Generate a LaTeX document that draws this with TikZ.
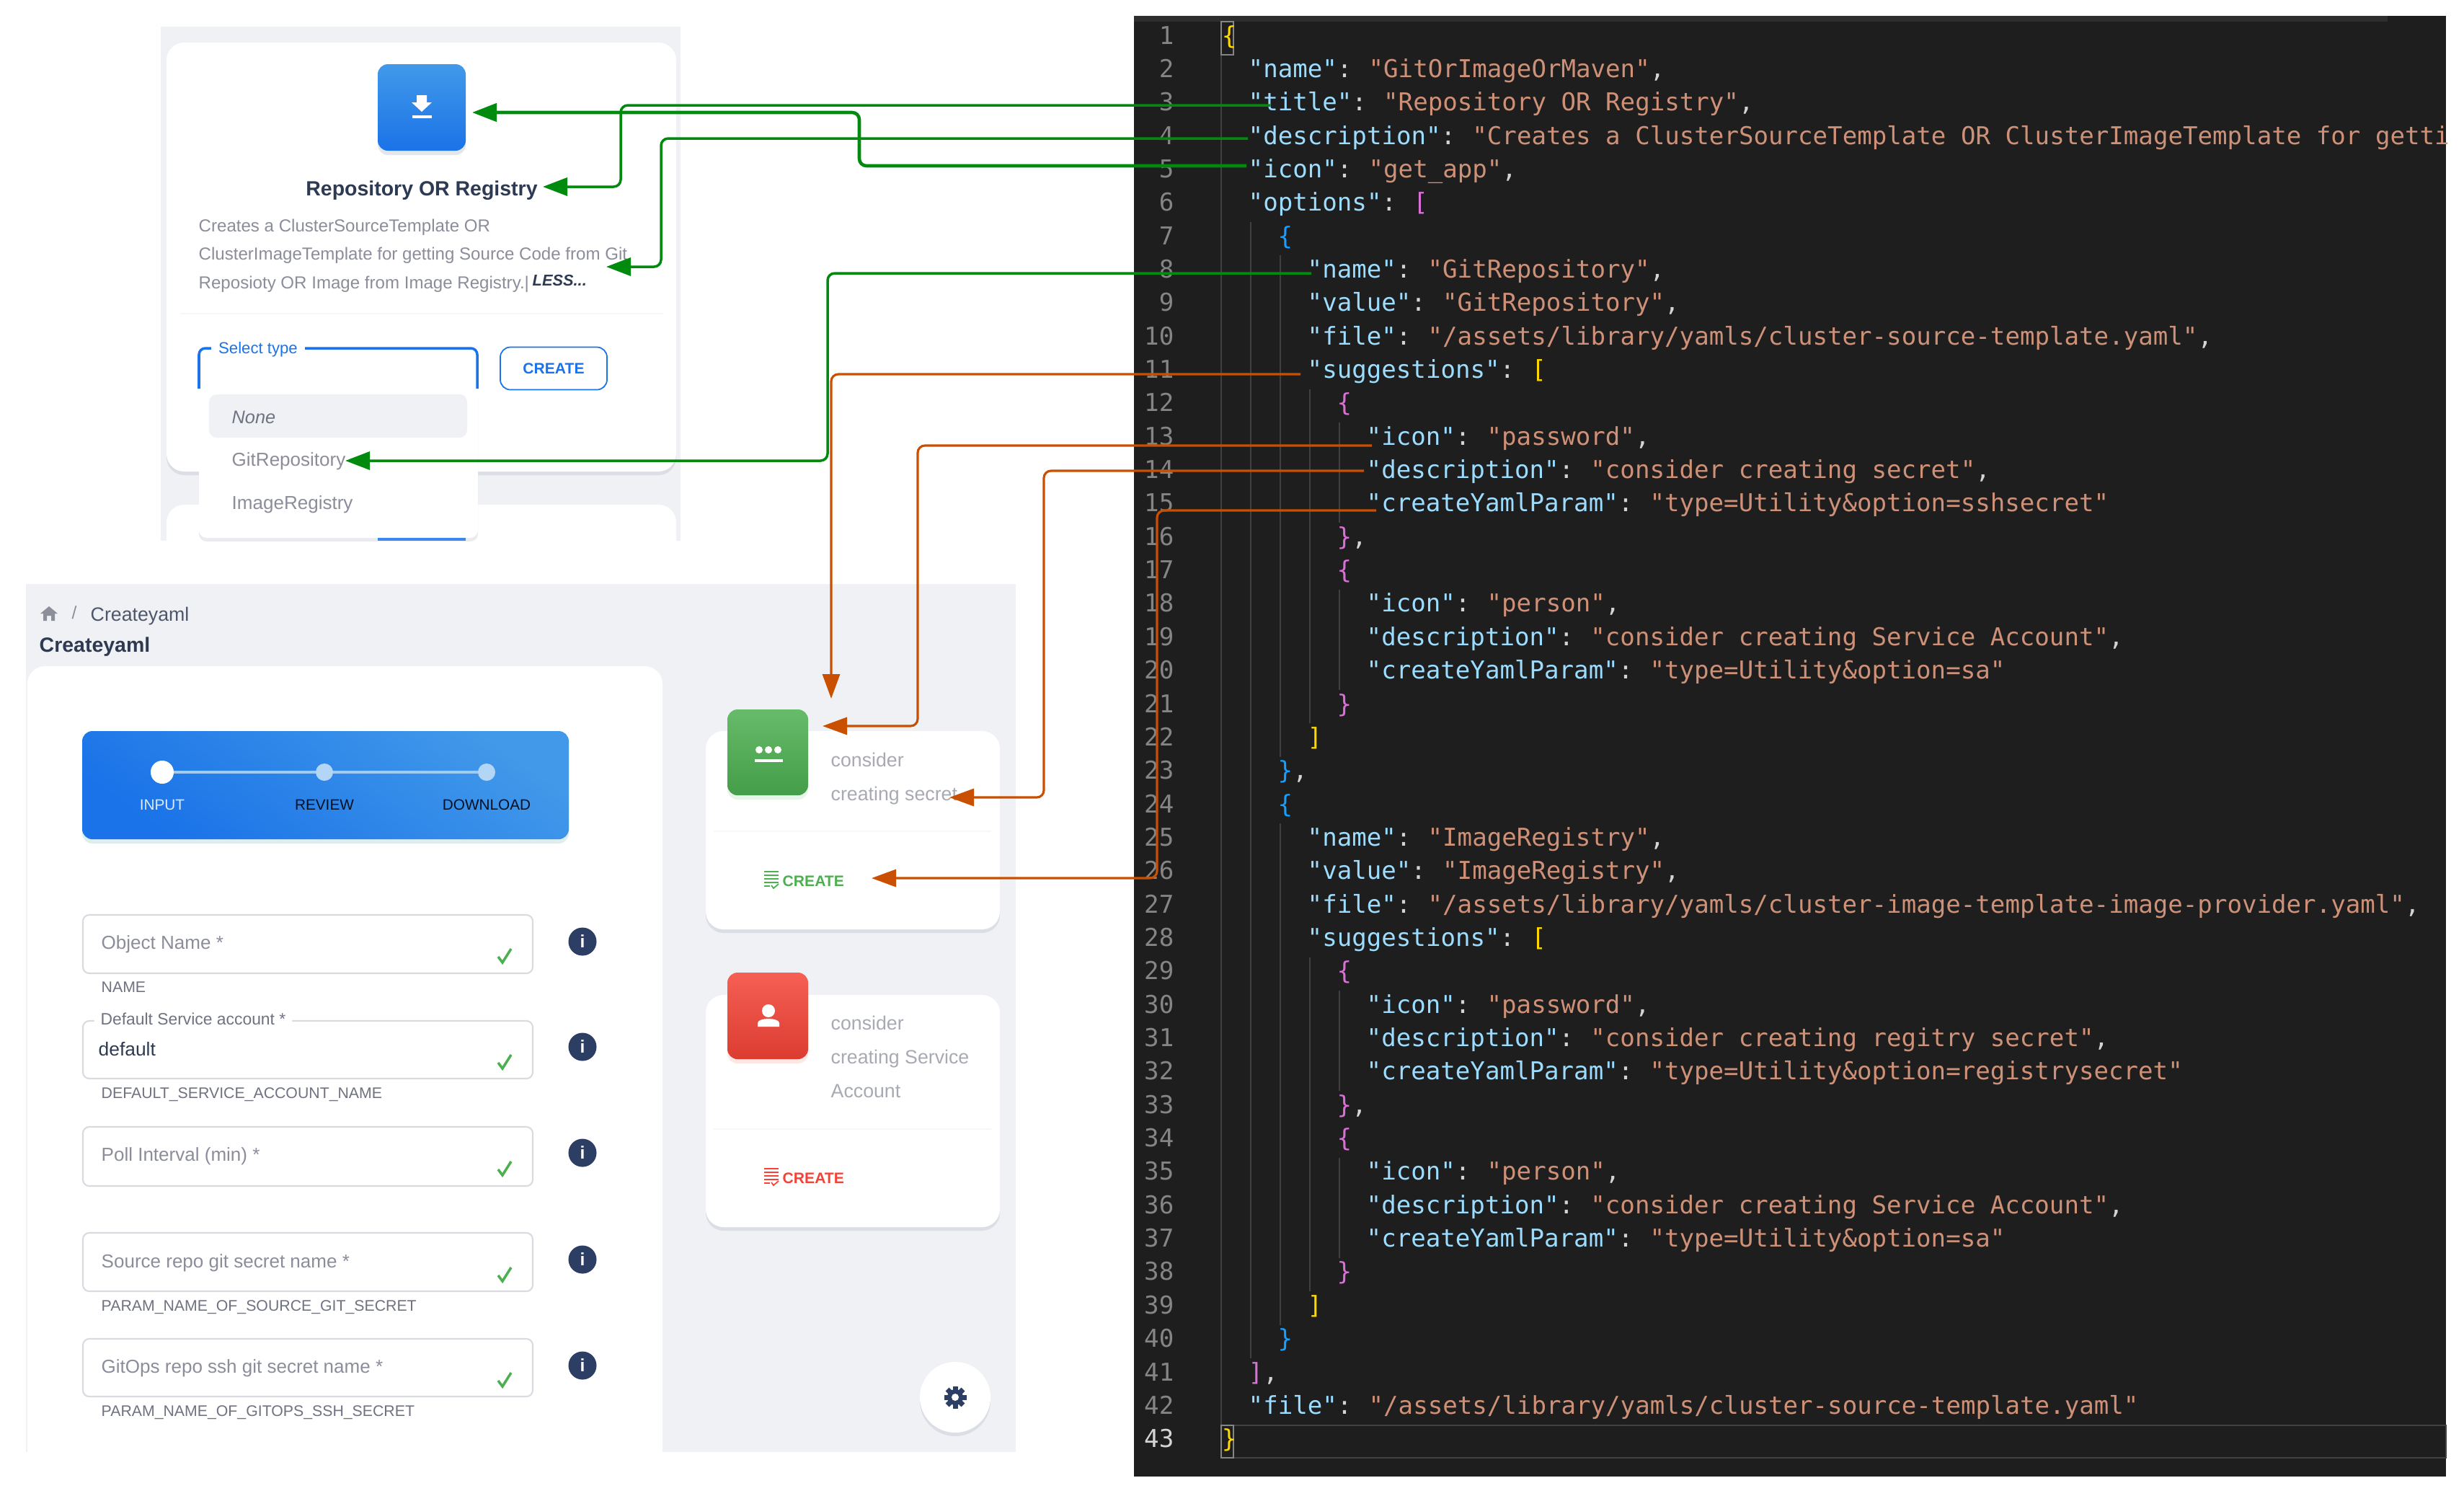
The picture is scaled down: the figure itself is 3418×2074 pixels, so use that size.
\documentclass[tikz,border=0pt]{standalone}
\usepackage{fontspec}
\setmainfont{Liberation Sans}
\newfontfamily\codefont{DejaVu Sans Mono}
\usetikzlibrary{arrows.meta, calc, shadows}

\definecolor{panelbg}{HTML}{F0F1F5}
\definecolor{editorbg}{HTML}{1E1E1E}
\definecolor{guidegray}{HTML}{404040}
\definecolor{keyblue}{HTML}{9CDCFE}
\definecolor{strorange}{HTML}{CE9178}
\definecolor{punctgray}{HTML}{D4D4D4}
\definecolor{numgray}{HTML}{858585}
\definecolor{brYellow}{HTML}{FFD700}
\definecolor{brPurple}{HTML}{DA70D6}
\definecolor{brBlue}{HTML}{179FFF}
\definecolor{uiblue}{HTML}{1A73E8}
\definecolor{uibluelight}{HTML}{4299E9}
\definecolor{uinavy}{HTML}{2C3E63}
\definecolor{uitext}{HTML}{8B8D9A}
\definecolor{uilabel}{HTML}{6F7280}
\definecolor{uidark}{HTML}{2E3A52}
\definecolor{fieldline}{HTML}{D9DBE1}
\definecolor{okgreen}{HTML}{4CAF50}
\definecolor{errred}{HTML}{F44336}
\definecolor{linkgreen}{HTML}{008A0E}
\definecolor{linkorange}{HTML}{C95000}

\newcommand{\uisize}[1]{\fontsize{#1}{#1}\selectfont}
\newcommand{\kk}[1]{\textcolor{keyblue}{#1}}
\newcommand{\vv}[1]{\textcolor{strorange}{#1}}
\newcommand{\pp}[1]{\textcolor{punctgray}{#1}}
\newcommand{\cc}{\pp{: }\kern-1.2pt}
% one line of the editor: line, column, text
\newcommand{\codeln}[3]{\node[codetxt] (ln#1) at ({1690+#2*20.5},{61+(#1-1)*46.35}) {#3};}
\newcommand{\codekv}[5]{\codeln{#1}{#2}{\kk{"#3"}\cc\vv{"#4"}\pp{#5}}}

\tikzset{
	codetxt/.style={anchor=base west, inner sep=0pt, font=\codefont\uisize{9.7}},
	numtxt/.style={anchor=base east, inner sep=0pt, text=numgray, font=\codefont\uisize{9.7}},
	guide/.style={guidegray, line width=0.5pt},
	uitxt/.style={anchor=mid west, inner sep=0pt, text=uitext, font=\uisize{7.4}},
	helpertxt/.style={uitxt, text=uilabel, font=\uisize{6.05}},
	steptxt/.style={anchor=mid, inner sep=0pt, font=\uisize{5.9}},
	createtxt/.style={anchor=mid west, inner sep=0pt, font=\bfseries\uisize{6}},
	card/.style={fill=white, rounded corners=7pt, softshadow},
	softshadow/.style={drop shadow={shadow xshift=0mm, shadow yshift=-0.5mm, opacity=.1, fill=uinavy}},
	iconshadow/.style={drop shadow={shadow xshift=0mm, shadow yshift=-0.6mm, opacity=.13, fill=#1}},
	field/.style={draw=fieldline, fill=white, line width=0.6pt, rounded corners=2.5pt},
	infobtn/.style={circle, fill=uinavy, text=white, inner sep=0pt, minimum size=3.9mm, font=\bfseries\uisize{7}},
	checkmk/.style={okgreen, line width=1pt},
	carddiv/.style={panelbg!60!white, line width=0.6pt},
	greenlink/.style={linkgreen, line width=1pt, rounded corners=2.8pt, -{Triangle[length=3.4mm, width=2.5mm]}},
	orangelink/.style={linkorange, line width=0.9pt, rounded corners=2.8pt, -{Triangle[length=3.4mm, width=2.4mm]}},
}

\begin{document}
\begin{tikzpicture}[x=0.01cm, y=-0.01cm]
	\useasboundingbox (0,0) rectangle (3418,2074);

	% Top panel
	\fill[panelbg] (223,37) rectangle (944,750);
	\path[card] (231,59) rectangle (938,654);
	\fill[white, rounded corners=7pt] (231,750) |- (938,700) -- (938,750);
	\shade[bottom color=uiblue, top color=uibluelight, rounded corners=4pt, iconshadow=uinavy] (524,89) rectangle (646,209);
	\fill[white] (578,132) -- (592,132) -- (592,142) -- (599,142) -- (585,155) -- (571,142) -- (578,142) -- cycle;
	\fill[white] (572,160) rectangle (599,164);
	\node[uitxt, anchor=mid, text=uidark, font=\bfseries\uisize{8.1}] (cardtitle) at (585,262) {Repository OR Registry};
	\node[uitxt, font=\uisize{6.85}] (desc1) at (275,312) {Creates a ClusterSourceTemplate OR};
	\node[uitxt, font=\uisize{6.85}] (desc2) at (275,351) {ClusterImageTemplate for getting Source Code from Git};
	\node[uitxt, font=\uisize{6.85}] (desc3) at (275,391) {Reposioty OR Image from Image Registry.|};
	\node[uitxt, text=uidark, font=\bfseries\itshape\uisize{6.2}] (lesslbl) at (738,387) {LESS...};
	\draw[carddiv] (250,435) -- (920,435);

	% Select box
	\draw[uiblue, line width=1pt, rounded corners=2.5pt] (276,539) |- (662,483) -- (662,539);
	\node[uitxt, anchor=mid, fill=white, inner xsep=3pt, text=uiblue, font=\uisize{6.3}] (selectlbl) at (358,481) {Select type};
	\node[draw=uiblue, fill=white, line width=0.5pt, rounded corners=4pt, minimum width=1.48cm, minimum height=0.59cm, inner sep=0pt, text=uiblue, font=\bfseries\uisize{6}] (createbtn) at (768,511) {CREATE};
	\path[fill=white, rounded corners=3pt, softshadow] (276,536) rectangle (663,746);
	\fill[panelbg, rounded corners=3pt] (290,547) rectangle (648,607);
	\node[uitxt, text=uilabel, font=\itshape\uisize{7.2}] (optnone) at (321,578) {None};
	\node[uitxt] (optgit) at (321,637) {GitRepository};
	\node[uitxt] (optimage) at (321,697) {ImageRegistry};
	\fill[uiblue!85!white] (524,746) rectangle (646,750);

	% Bottom panel
	\fill[panelbg] (36,810) rectangle (1409,2014);
	\fill[white, rounded corners=7pt] (38,2014) |- (919,924) -- (919,2014);
	\fill[uilabel!80!white] (68,841) -- (80,851) -- (76,851) -- (76,861) -- (71,861) -- (71,854) -- (65,854) -- (65,861) -- (60,861) -- (60,851) -- (56,851) -- cycle;
	\node[uitxt, anchor=mid, font=\uisize{7}] (crumbsep) at (103,849) {/};
	\node[uitxt, text=uidark!85!white, font=\uisize{7.6}] (crumbname) at (125,852) {Createyaml};
	\node[uitxt, text=uidark, font=\bfseries\uisize{8.1}] (pagetitle) at (54,895) {Createyaml};

	% Stepper
	\shade[bottom color=uiblue, top color=uibluelight, shading angle=-35, rounded corners=4pt, iconshadow=teal] (114,1014) rectangle (789,1164);
	\draw[uibluelight!50!white, line width=1.1pt] (225,1071) -- (675,1071);
	\fill[white] (225,1071) circle[radius=1.6mm];
	\fill[uibluelight!40!white] (450,1071) circle[radius=1.2mm];
	\fill[uibluelight!40!white] (675,1071) circle[radius=1.2mm];
	\node[steptxt, text=white!85!uiblue] (stepinput) at (225,1114) {INPUT};
	\node[steptxt, text=black!85!uiblue] (stepreview) at (450,1114) {REVIEW};
	\node[steptxt, text=black!85!uiblue] (stepdownload) at (675,1114) {DOWNLOAD};

	% Form fields
	\foreach \n/\ytop/\ybot in {1/1269/1350, 2/1416/1496, 3/1563/1645, 4/1710/1791, 5/1857/1937}
		\path[field] (115,\ytop) rectangle (739,\ybot);
	\node[uitxt] (fieldtxt1) at (140,1307) {Object Name *};
	\node[helpertxt] (helper1) at (140,1367) {NAME};
	\node[uitxt, fill=white, inner xsep=2.5pt, text=uilabel, font=\uisize{6.5}, anchor=mid] (fieldtxt2) at (268,1412) {Default Service account *};
	\node[uitxt, text=uidark, font=\uisize{7.5}] (fieldval2) at (136,1455) {default};
	\node[helpertxt] (helper2) at (140,1514) {DEFAULT\_SERVICE\_ACCOUNT\_NAME};
	\node[uitxt] (fieldtxt3) at (140,1601) {Poll Interval (min) *};
	\node[uitxt] (fieldtxt4) at (140,1749) {Source repo git secret name *};
	\node[helpertxt] (helper4) at (140,1809) {PARAM\_NAME\_OF\_SOURCE\_GIT\_SECRET};
	\node[uitxt] (fieldtxt5) at (140,1895) {GitOps repo ssh git secret name *};
	\node[helpertxt] (helper5) at (140,1955) {PARAM\_NAME\_OF\_GITOPS\_SSH\_SECRET};
	\foreach \n/\ycheck/\yinfo in {1/1326/1306, 2/1473/1452, 3/1621/1599, 4/1768/1747, 5/1914/1894} {
		\draw[checkmk, shift={(700,\ycheck)}] (-9,1) -- (-3,9) -- (9,-10);
		\node[infobtn] (info\n) at (808,\yinfo) {i};
	}

	% Suggestion cards
	\path[card] (979,1014) rectangle (1387,1289);
	\path[card] (979,1380) rectangle (1387,1702);
	\shade[bottom color=okgreen!90!black, top color=okgreen!85!white, rounded corners=4pt, iconshadow=okgreen] (1009,984) rectangle (1121,1103);
	\shade[bottom color=errred!90!black, top color=errred!85!white, rounded corners=4pt, iconshadow=errred] (1009,1349) rectangle (1121,1469);
	\foreach \dotx in {1053,1066,1079}
		\fill[white] (\dotx,1040) circle[radius=0.5mm];
	\fill[white] (1047,1053) rectangle (1086,1057);
	\fill[white] (1066,1402) circle[radius=0.9mm];
	\fill[white] (1051,1424) -- (1051,1419) .. controls (1051,1411) and (1081,1411) .. (1081,1419) -- (1081,1424) -- cycle;
	\node[uitxt, text=uitext!75!white, font=\uisize{7.6}] (sugg1a) at (1152,1054) {consider};
	\node[uitxt, text=uitext!75!white, font=\uisize{7.6}] (sugg1b) at (1152,1101) {creating secret};
	\node[uitxt, text=uitext!75!white, font=\uisize{7.6}] (sugg2a) at (1152,1419) {consider};
	\node[uitxt, text=uitext!75!white, font=\uisize{7.6}] (sugg2b) at (1152,1466) {creating Service};
	\node[uitxt, text=uitext!75!white, font=\uisize{7.6}] (sugg2c) at (1152,1513) {Account};
	\draw[carddiv] (990,1153) -- (1375,1153);
	\draw[carddiv] (990,1566) -- (1375,1566);
	\foreach \col/\cy in {okgreen/1220, errred/1632} {
		\foreach \dy in {-11,-6,-1,4}
			\draw[\col, line width=0.5pt] (1060,\cy+\dy) -- (1080,\cy+\dy);
		\draw[\col, line width=0.5pt] (1060,\cy+9) -- (1068,\cy+9);
		\draw[\col, line width=0.5pt] (1070,\cy+8) -- (1073,\cy+12) -- (1080,\cy+6);
		\node[createtxt, text=\col] (create\col) at (1085,\cy) {CREATE};
	}

	% Settings button
	\node[circle, fill=white, minimum size=9.8mm, inner sep=0pt, softshadow] (gearbtn) at (1325,1938) {};
	\foreach \a in {0,45,90,135}
		\fill[uinavy, shift={(gearbtn.center)}, rotate=\a] (-3.5,-15.5) rectangle (3.5,15.5);
	\fill[uinavy] (gearbtn.center) circle[radius=1.1mm];
	\fill[white] (gearbtn.center) circle[radius=0.5mm];

	% Editor
	\fill[editorbg] (1573,22) rectangle (3393,2048);
	\fill[editorbg!93!white] (1573,22) rectangle (3312,30);
	\draw[white!16!editorbg, line width=0.5pt] (1694,1977) rectangle (3393,2022);
	\foreach \col/\la/\lb in {0/2/42, 2/7/40, 4/8/22, 4/25/39, 6/12/21, 6/29/38, 8/13/15, 8/18/20, 8/30/32, 8/35/37}
		\draw[guide] ({1694+\col*20.5},{53+(\la-1.5)*46.35}) -- ({1694+\col*20.5},{53+(\lb-0.5)*46.35});
	\foreach \n in {1,...,42}
		\node[numtxt] (num\n) at (1629,{61+(\n-1)*46.35}) {\n};
	\node[numtxt, text=punctgray] (num43) at (1629,{61+42*46.35}) {43};
	\draw[numgray, line width=0.5pt] (1694,30) rectangle (1711,76);
	\draw[numgray, line width=0.5pt] (1694,1977) rectangle (1711,2022);

	\codeln{1}{0.2}{\textcolor{brYellow}{\{}}
	\codekv{2}{2}{name}{GitOrImageOrMaven}{,}
	\codekv{3}{2}{title}{Repository OR Registry}{,}
	\codeln{4}{2}{\kk{"description"}\cc\vv{"Creates a ClusterSourceTemplate OR ClusterImageTemplate for getti}}
	\codekv{5}{2}{icon}{get\_app}{,}
	\codeln{6}{2}{\kk{"options"}\cc\textcolor{brPurple}{[}}
	\codeln{7}{4}{\textcolor{brBlue}{\{}}
	\codekv{8}{6}{name}{GitRepository}{,}
	\codekv{9}{6}{value}{GitRepository}{,}
	\codekv{10}{6}{file}{/assets/library/yamls/cluster-source-template.yaml}{,}
	\codeln{11}{6}{\kk{"suggestions"}\cc\textcolor{brYellow}{[}}
	\codeln{12}{8}{\textcolor{brPurple}{\{}}
	\codekv{13}{10}{icon}{password}{,}
	\codekv{14}{10}{description}{consider creating secret}{,}
	\codekv{15}{10}{createYamlParam}{type=Utility\&option=sshsecret}{}
	\codeln{16}{8}{\textcolor{brPurple}{\}}\pp{,}}
	\codeln{17}{8}{\textcolor{brPurple}{\{}}
	\codekv{18}{10}{icon}{person}{,}
	\codekv{19}{10}{description}{consider creating Service Account}{,}
	\codekv{20}{10}{createYamlParam}{type=Utility\&option=sa}{}
	\codeln{21}{8}{\textcolor{brPurple}{\}}}
	\codeln{22}{6}{\textcolor{brYellow}{]}}
	\codeln{23}{4}{\textcolor{brBlue}{\}}\pp{,}}
	\codeln{24}{4}{\textcolor{brBlue}{\{}}
	\codekv{25}{6}{name}{ImageRegistry}{,}
	\codekv{26}{6}{value}{ImageRegistry}{,}
	\codekv{27}{6}{file}{/assets/library/yamls/cluster-image-template-image-provider.yaml}{,}
	\codeln{28}{6}{\kk{"suggestions"}\cc\textcolor{brYellow}{[}}
	\codeln{29}{8}{\textcolor{brPurple}{\{}}
	\codekv{30}{10}{icon}{password}{,}
	\codekv{31}{10}{description}{consider creating regitry secret}{,}
	\codekv{32}{10}{createYamlParam}{type=Utility\&option=registrysecret}{}
	\codeln{33}{8}{\textcolor{brPurple}{\}}\pp{,}}
	\codeln{34}{8}{\textcolor{brPurple}{\{}}
	\codekv{35}{10}{icon}{person}{,}
	\codekv{36}{10}{description}{consider creating Service Account}{,}
	\codekv{37}{10}{createYamlParam}{type=Utility\&option=sa}{}
	\codeln{38}{8}{\textcolor{brPurple}{\}}}
	\codeln{39}{6}{\textcolor{brYellow}{]}}
	\codeln{40}{4}{\textcolor{brBlue}{\}}}
	\codeln{41}{2}{\textcolor{brPurple}{]}\pp{,}}
	\codekv{42}{2}{file}{/assets/library/yamls/cluster-source-template.yaml}{}
	\codeln{43}{0.2}{\textcolor{brYellow}{\}}}

	% Link ends
	\coordinate (srcIcon) at (1729,230);
	\coordinate (bendIcon) at (1192,156);
	\coordinate (tipIcon) at (655,156);
	\coordinate (srcTitle) at (1762,146);
	\coordinate (bendTitle) at (861,259);
	\coordinate (tipTitle) at (753,259);
	\coordinate (srcDesc) at (1731,192);
	\coordinate (bendDesc) at (917,370);
	\coordinate (tipDesc) at (841,370);
	\coordinate (srcOpt) at (1819,379);
	\coordinate (bendOpt) at (1148,639);
	\coordinate (tipOpt) at (479,639);
	\coordinate (srcSugg) at (1804,519);
	\coordinate (tipSugg) at (1153,969);
	\coordinate (srcPass) at (1903,618);
	\coordinate (bendPass) at (1273,1007);
	\coordinate (tipPass) at (1141,1007);
	\coordinate (srcText) at (1892,653);
	\coordinate (bendText) at (1448,1106);
	\coordinate (tipText) at (1317,1106);
	\coordinate (srcYaml) at (1909,708);
	\coordinate (bendYaml) at (1605,1218);
	\coordinate (tipYaml) at (1209,1218);

	% Green links
	\draw[greenlink, line width=1.3pt] (srcIcon) -| (bendIcon) -- (tipIcon);
	\draw[greenlink] (srcTitle) -| (bendTitle) -- (tipTitle);
	\draw[greenlink] (srcDesc) -| (bendDesc) -- (tipDesc);
	\draw[greenlink] (srcOpt) -| (bendOpt) -- (tipOpt);

	% Orange links
	\draw[orangelink] (srcSugg) -| (tipSugg);
	\draw[orangelink] (srcPass) -| (bendPass) -- (tipPass);
	\draw[orangelink] (srcText) -| (bendText) -- (tipText);
	\draw[orangelink] (srcYaml) -| (bendYaml) -- (tipYaml);
\end{tikzpicture}
\end{document}
